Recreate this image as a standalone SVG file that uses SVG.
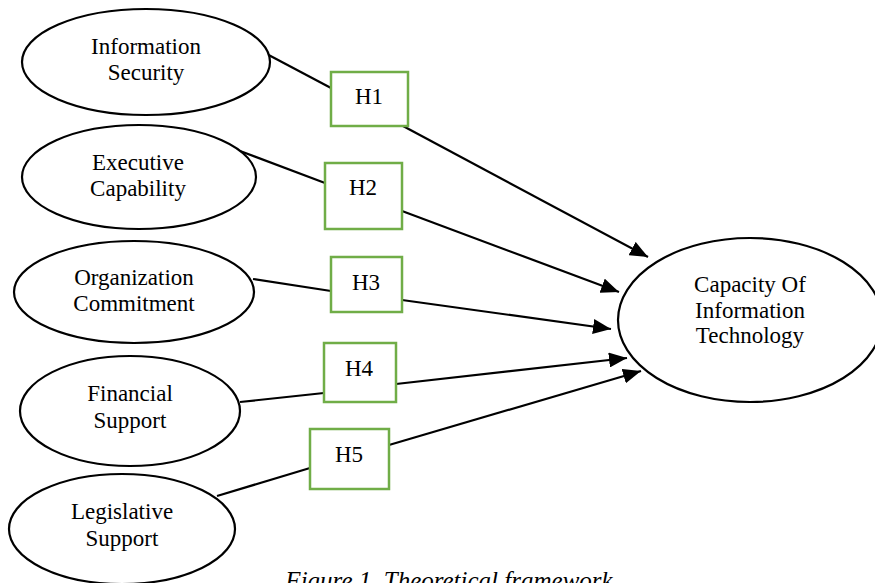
<svg xmlns="http://www.w3.org/2000/svg" width="875" height="583" viewBox="0 0 875 583">
<style>
.node ellipse{fill:#fff;stroke:#000;stroke-width:2.2}
.hyp rect{fill:#fff;stroke:#70ad47;stroke-width:2.5}
text{font-family:"Liberation Serif","Times New Roman",serif;font-size:23px;fill:#000;text-anchor:middle}
.conn line{stroke:#000;stroke-width:2.2}
.cap{font-style:italic;font-size:25px}
</style>
<defs>
<marker id="arr" markerUnits="userSpaceOnUse" markerWidth="19" markerHeight="15" refX="18" refY="7.5" orient="auto">
<path d="M0,0 L18,7.5 L0,15 z" fill="#000"/>
</marker>
</defs>
<rect width="875" height="583" fill="#fff"/>
<g id="connectors" class="conn">
<line x1="263" y1="52" x2="331" y2="88"/>
<line x1="403" y1="126" x2="648" y2="257" marker-end="url(#arr)"/>
<line x1="240" y1="151" x2="325" y2="183"/>
<line x1="402" y1="211" x2="619" y2="292" marker-end="url(#arr)"/>
<line x1="253" y1="279" x2="331" y2="291"/>
<line x1="402" y1="300" x2="611" y2="329" marker-end="url(#arr)"/>
<line x1="240" y1="402" x2="324" y2="393"/>
<line x1="396" y1="384" x2="627" y2="358" marker-end="url(#arr)"/>
<line x1="217" y1="496" x2="310" y2="468"/>
<line x1="389" y1="445" x2="641" y2="371" marker-end="url(#arr)"/>
</g>
<g id="info-security" class="node">
<ellipse cx="146" cy="62" rx="124" ry="53"/>
<text x="146" y="54">Information</text>
<text x="146" y="80">Security</text>
</g>
<g id="executive-capability" class="node">
<ellipse cx="139" cy="177" rx="117" ry="52"/>
<text x="138" y="170">Executive</text>
<text x="138" y="196">Capability</text>
</g>
<g id="organization-commitment" class="node">
<ellipse cx="134" cy="292" rx="120" ry="51"/>
<text x="134" y="285">Organization</text>
<text x="134" y="311">Commitment</text>
</g>
<g id="financial-support" class="node">
<ellipse cx="130" cy="411" rx="110" ry="55"/>
<text x="130" y="401">Financial</text>
<text x="130" y="428">Support</text>
</g>
<g id="legislative-support" class="node">
<ellipse cx="122" cy="529" rx="113" ry="55"/>
<text x="122" y="519">Legislative</text>
<text x="122" y="546">Support</text>
</g>
<g id="capacity-it" class="node">
<ellipse cx="750" cy="320" rx="132" ry="82"/>
<text x="750" y="292">Capacity Of</text>
<text x="750" y="318">Information</text>
<text x="750" y="343">Technology</text>
</g>
<g id="h1" class="hyp"><rect x="331" y="72" width="77" height="54"/><text x="369" y="104">H1</text></g>
<g id="h2" class="hyp"><rect x="325" y="163" width="77" height="66"/><text x="363" y="195">H2</text></g>
<g id="h3" class="hyp"><rect x="331" y="257" width="71" height="55"/><text x="366" y="290">H3</text></g>
<g id="h4" class="hyp"><rect x="324" y="343" width="72" height="59"/><text x="359" y="376">H4</text></g>
<g id="h5" class="hyp"><rect x="310" y="429" width="79" height="60"/><text x="349" y="462">H5</text></g>
<text class="cap" x="449" y="589">Figure 1. Theoretical framework</text>
</svg>
